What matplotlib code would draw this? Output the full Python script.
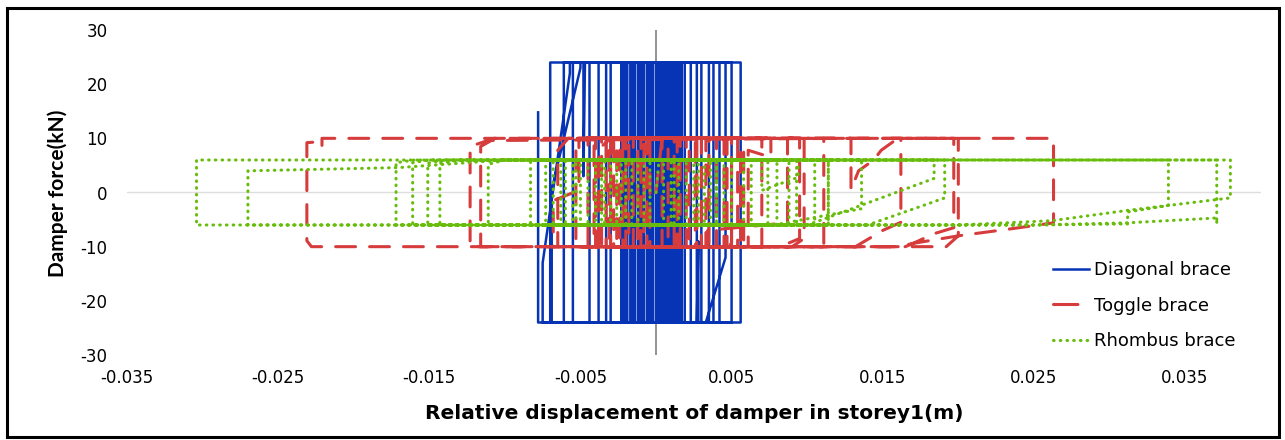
import numpy as np
import matplotlib
matplotlib.use("Agg")
import matplotlib.pyplot as plt
from matplotlib.patches import Rectangle
from matplotlib.lines import Line2D

# hysteresis paths: (relative displacement [m], damper force [kN])
diagonal_pts = [
    (0.0000, 0.0), (0.0002, 24.0),
    (0.0010, 24.0), (0.0010, -24.0), (-0.0012, -24.0), (-0.0012, 24.0),
    (0.0014, 24.0), (0.0014, -24.0), (-0.0020, -24.0), (-0.0020, 24.0),
    (0.0007, 24.0), (0.0007, -24.0), (-0.0009, -24.0), (-0.0009, 24.0),
    (0.0017, 24.0), (0.0017, -24.0), (-0.0023, -24.0), (-0.0023, 24.0),
    (0.0004, 24.0), (0.0004, -24.0), (-0.0005, -24.0), (-0.0005, 24.0),
    (0.0013, 24.0), (0.0013, -24.0), (-0.0016, -24.0), (-0.0016, 24.0),
    (0.0001, 24.0), (0.0001, -24.0), (-0.0003, -24.0), (-0.0003, 24.0),
    (0.0009, 24.0), (0.0009, -24.0), (-0.0017, -24.0), (-0.0017, 24.0),
    (0.0006, 24.0), (0.0006, -24.0), (-0.0011, -24.0), (-0.0011, 24.0),
    (0.0015, 24.0), (0.0015, -24.0), (-0.0021, -24.0), (-0.0021, 24.0),
    (0.0003, 24.0), (0.0003, -24.0), (-0.0008, -24.0), (-0.0008, 24.0),
    (0.0012, 24.0), (0.0012, -24.0), (-0.0014, -24.0), (-0.0014, 24.0),
    (0.0000, 24.0), (0.0000, -24.0), (-0.0006, -24.0), (-0.0006, 24.0),
    (0.0016, 24.0), (0.0016, -24.0), (-0.0019, -24.0), (-0.0019, 24.0),
    (0.0005, 24.0), (0.0005, -24.0), (-0.0002, -24.0), (-0.0002, 24.0),
    (0.0011, 24.0), (0.0011, -24.0), (-0.0015, -24.0), (-0.0015, 24.0),
    (0.0008, 24.0), (0.0008, -24.0), (-0.0010, -24.0), (-0.0010, 24.0),
    (0.0002, 24.0), (0.0002, -24.0), (-0.0004, -24.0), (-0.0004, 24.0),
    (0.0017, 24.0), (0.0017, -24.0), (-0.0022, -24.0), (-0.0022, 24.0),
    (0.0023, 24.0), (0.0023, -24.0), (-0.0030, -24.0), (-0.0030, 24.0),
    (0.0038, 24.0), (0.0038, -24.0), (-0.0044, -24.0), (-0.0044, 24.0),
    (0.0056, 24.0), (0.0056, -24.0), (-0.0070, -24.0), (-0.0070, 24.0),
    (-0.0048, 24.0), (-0.0048, 3.0), (-0.0047, 24.0),
    (0.0046, 24.0), (0.0046, -12.0), (0.0034, -23.0), (0.0033, -24.0),
    (-0.0055, -24.0), (-0.0055, 24.0),
    (0.0030, 24.0), (0.0030, -24.0), (-0.0038, -24.0), (-0.0038, 24.0),
    (0.0042, 24.0), (0.0042, -24.0),
    (0.0028, -24.0), (0.0028, -9.0), (0.0027, -24.0),
    (-0.0061, -24.0), (-0.0061, 24.0),
    (0.0027, 24.0), (0.0027, -24.0), (-0.0033, -24.0), (-0.0033, 24.0),
    (0.0019, 24.0), (0.0019, -24.0),
    (-0.0075, -24.0), (-0.0075, -13.0), (-0.0057, 22.0), (-0.0057, 24.0),
    (0.0050, 24.0), (0.0050, -24.0),
    (-0.0069, -24.0), (-0.0069, 0.5), (-0.0050, 23.0), (-0.0050, 24.0),
    (0.0035, 24.0), (0.0035, -24.0),
    (-0.0078, -24.0), (-0.0078, 14.8),
]

toggle_pts = [
    (0.0000, 0.0), (0.0004, 10.0),
    (0.0020, 10.0), (0.0020, -10.0), (-0.0015, -10.0), (-0.0015, 10.0),
    (0.0035, 10.0), (0.0035, -10.0), (-0.0028, -10.0), (-0.0028, 10.0),
    (0.0012, 10.0), (0.0012, -10.0), (-0.0008, -10.0), (-0.0008, 10.0),
    (0.0045, 10.0), (0.0045, -10.0), (-0.0036, -10.0), (-0.0036, 10.0),
    (0.0026, 10.0), (0.0026, -10.0), (-0.0020, -10.0), (-0.0020, 10.0),
    (0.0050, 10.0), (0.0050, -9.5), (0.0042, -10.0),
    (-0.0041, -10.0), (-0.0041, 10.0),
    (0.0016, 10.0), (0.0016, -10.0), (-0.0004, -10.0), (-0.0004, 10.0),
    (0.0030, 10.0), (0.0030, -10.0), (-0.0024, -10.0), (-0.0024, 10.0),
    (0.0058, 10.0), (0.0058, -10.0), (-0.0031, -10.0), (-0.0031, 10.0),
    (0.0008, 10.0), (0.0008, -10.0), (-0.0012, -10.0), (-0.0012, 10.0),
    (0.0040, 10.0), (0.0040, -10.0),
    (-0.0038, -10.0), (-0.0038, 8.0), (-0.0030, 10.0),
    (0.0022, 10.0), (0.0022, -10.0), (-0.0018, -10.0), (-0.0018, 10.0),
    (0.0054, 10.0), (0.0054, -10.0), (-0.0026, -10.0), (-0.0026, 10.0),
    (0.0004, 10.0), (0.0004, -10.0), (-0.0010, -10.0), (-0.0010, 10.0),
    (0.0033, 10.0), (0.0033, -10.0), (-0.0033, -10.0), (-0.0033, 10.0),
    (0.0047, 10.0), (0.0047, -10.0), (-0.0022, -10.0), (-0.0022, 10.0),
    (0.0014, 10.0), (0.0014, -10.0), (-0.0006, -10.0), (-0.0006, 10.0),
    (0.0027, 10.0), (0.0027, -10.0), (-0.0040, -10.0), (-0.0040, 10.0),
    (0.0056, 10.0), (0.0056, -10.0),
    (-0.0065, -10.0), (-0.0065, 7.8), (-0.0058, 10.0),
    (0.0095, 10.0), (0.0095, -8.5), (0.0082, -10.0),
    (-0.0068, -10.0), (-0.0068, -1.5), (-0.0051, 0.4), (-0.0051, 10.0),
    (0.0111, 10.0), (0.0111, -10.0),
    (0.0034, -10.0), (0.0034, -7.0), (0.0087, -5.6), (0.0087, 10.0),
    (0.0098, 10.0), (0.0098, -8.5), (0.0090, -10.0),
    (-0.0123, -10.0), (-0.0123, 8.5), (-0.0107, 10.0),
    (0.0162, 10.0), (0.0162, -5.5), (0.0150, -7.0), (0.0132, -10.0),
    (-0.0053, -10.0), (-0.0053, 10.0),
    (0.0200, 10.0), (0.0200, -8.0), (0.0192, -10.0),
    (-0.0228, -10.0), (-0.0231, -8.9), (-0.0231, 9.2), (-0.0226, 9.3),
    (-0.0221, 8.2), (-0.0221, 10.0),
    (0.0263, 10.0), (0.0263, -5.6), (0.0235, -6.7), (0.0200, -8.0),
    (0.0170, -9.4), (0.0160, -10.0),
    (-0.0116, -10.0), (-0.0116, 8.5), (-0.0109, 9.6),
    (0.0129, 10.0), (0.0129, 0.5), (0.0134, 4.0), (0.0144, 6.0),
    (0.0149, 7.8), (0.0158, 9.6), (0.0162, 10.0),
    (0.0197, 10.0), (0.0197, -6.5), (0.0184, -7.6), (0.0170, -9.4), (0.0165, -10.0),
    (-0.0030, -10.0), (-0.0030, 10.0),
    (0.0076, 10.0), (0.0076, 6.5), (0.0061, 7.8), (0.0061, -10.0),
    (-0.0045, -10.0), (-0.0045, 10.0),
    (0.0070, 10.0), (0.0070, -10.0),
]

rhombus_pts = [
    (0.0000, 0.0), (0.0002, 6.0),
    (0.0010, 6.0), (0.0010, -6.0), (-0.0012, -6.0), (-0.0012, 6.0),
    (0.0025, 6.0), (0.0025, -6.0), (-0.0030, -6.0), (-0.0030, 6.0),
    (0.0040, 6.0), (0.0040, -6.0), (-0.0020, -6.0), (-0.0020, 6.0),
    (0.0015, 6.0), (0.0015, -6.0), (-0.0045, -6.0), (-0.0045, 6.0),
    (0.0050, 6.0), (0.0050, -6.0), (-0.0008, -6.0), (-0.0008, 6.0),
    (0.0032, 6.0), (0.0032, -6.0), (-0.0055, -6.0), (-0.0055, 6.0),
    (0.0005, 6.0), (0.0005, -6.0), (-0.0036, -6.0), (-0.0036, 6.0),
    (0.0063, 6.0), (0.0063, -6.0), (-0.0063, -6.0), (-0.0063, 6.0),
    (0.0020, 6.0), (0.0020, -6.0), (-0.0026, -6.0), (-0.0026, 6.0),
    (0.0045, 6.0), (0.0045, -6.0), (-0.0073, -6.0), (-0.0073, 6.0),
    (0.0036, 6.0), (0.0036, -6.0), (-0.0016, -6.0), (-0.0016, 6.0),
    (0.0058, 6.0), (0.0058, -6.0), (-0.0050, -6.0), (-0.0050, 6.0),
    (0.0028, 6.0), (0.0028, -6.0), (-0.0040, -6.0), (-0.0040, 6.0),
    (0.0012, 6.0), (0.0012, -6.0), (-0.0083, -6.0), (-0.0083, 6.0),
    (0.0074, 6.0), (0.0074, -6.0), (-0.0004, -6.0), (-0.0004, 6.0),
    (0.0080, 6.0), (0.0080, -6.0), (-0.0060, -6.0), (-0.0060, 6.0),
    (0.0088, 6.0), (0.0088, -6.0), (-0.0034, -6.0), (-0.0034, 6.0),
    (0.0093, 6.0), (0.0093, -6.0), (-0.0068, -6.0), (-0.0068, 6.0),
    (0.0105, 6.0), (0.0105, -6.0),
    (-0.0111, -6.0), (-0.0111, 5.2), (-0.0100, 6.0),
    (0.0114, 6.0), (0.0114, -6.0),
    (-0.0143, -6.0), (-0.0143, 5.4), (-0.0130, 6.0),
    (0.0136, 6.0), (0.0136, -3.0), (0.0078, -6.0),
    (-0.0151, -6.0), (-0.0151, 5.4), (-0.0140, 6.0),
    (0.0184, 6.0), (0.0184, 2.6), (0.0114, -4.6), (0.0100, -6.0),
    (-0.0161, -6.0), (-0.0161, 5.5), (-0.0150, 6.0),
    (0.0191, 6.0), (0.0191, -1.0), (0.0140, -6.0),
    (-0.0172, -6.0), (-0.0172, 5.5), (-0.0160, 6.0),
    (0.0339, 6.0), (0.0339, -2.4), (0.0312, -3.6), (0.0312, -5.8), (0.0250, -6.0),
    (-0.0304, -6.0), (-0.0304, 6.0),
    (0.0380, 6.0), (0.0380, -1.0), (0.0312, -3.3), (0.0262, -5.2), (0.0200, -6.0),
    (-0.0270, -6.0), (-0.0270, 4.0), (-0.0170, 4.6), (-0.0100, 6.0),
    (0.0371, 6.0), (0.0371, -5.8), (0.0371, -4.7), (0.0312, -5.6), (0.0250, -6.0),
    (-0.0053, -6.0), (-0.0053, 6.0),
    (0.0070, 6.0), (0.0070, 0.4), (0.0094, 2.8), (0.0094, 6.0),
    (0.0114, 6.0), (0.0114, -6.0),
    (-0.0023, -6.0), (-0.0023, 6.0),
    (0.0040, 6.0), (0.0040, -6.0),
]

series_names = ["Diagonal brace", "Toggle brace", "Rhombus brace"]
xticks = [-0.035, -0.025, -0.015, -0.005, 0.005, 0.015, 0.025, 0.035]
xtick_labels = ["-0.035", "-0.025", "-0.015", "-0.005", "0.005", "0.015", "0.025", "0.035"]
yticks = [-30, -20, -10, 0, 10, 20, 30]

plt.rcParams["font.family"] = ["DejaVu Sans"]
plt.rcParams["axes.unicode_minus"] = False

blue, red, green = "#0634b4", "#d63c3c", "#68bd0c"

fig = plt.figure(figsize=(12.85, 4.4), dpi=100)
ax = fig.add_axes([127 / 1285, 1 - 355 / 440, (1260.6 - 127) / 1285, 325 / 440])

ax.axhline(0, color="#dedede", lw=1.0, zorder=0)
ax.axvline(0, color="#8a8a8a", lw=1.3, zorder=0.5)

dx, dy = np.array(diagonal_pts).T
tx, ty = np.array(toggle_pts).T
rx, ry = np.array(rhombus_pts).T

ax.plot(dx, dy, color=blue, lw=1.8, zorder=2)
ax.plot(tx, ty, color=red, lw=2.2, dashes=(6.5, 4.6),
        dash_capstyle="round", zorder=3)
ax.plot(rx, ry, color=green, lw=2.2, dashes=(0.2, 2.0),
        dash_capstyle="round", zorder=4)

ax.set_xlim(-0.035, 0.04)
ax.set_ylim(-30, 30)
ax.set_xticks(xticks)
ax.set_xticklabels(xtick_labels)
ax.set_yticks(yticks)
for s in ax.spines.values():
    s.set_visible(False)
ax.tick_params(axis="both", length=0, labelsize=12)
ax.tick_params(axis="x", pad=10)
ax.tick_params(axis="y", pad=14)

fig.text(694 / 1285, 1 - 419 / 440, "Relative displacement of damper in storey1(m)",
         ha="center", va="baseline", fontsize=14.5, fontweight="bold")
fig.text(58 / 1285, 1 - 193 / 440, "Damper force(kN)", rotation=90,
         ha="center", va="center", fontsize=15, fontweight="bold", family=["Lato"])

# legend proxies so the toggle handle shows one dash as in the picture
handles = [
    Line2D([], [], color=blue, lw=1.8),
    Line2D([], [], color=red, lw=2.2, dashes=(8, 20), dash_capstyle="round"),
    Line2D([], [], color=green, lw=2.2, dashes=(0.2, 2.0), dash_capstyle="round"),
]
ax.legend(handles, series_names, loc="upper left",
          bbox_to_anchor=(1053 / 1285, 1 - 261 / 440),
          bbox_transform=fig.transFigure, frameon=False, fontsize=13,
          borderpad=0, borderaxespad=0, handlelength=2.0, handletextpad=0.25,
          labelspacing=0.97)

fig.patches.append(Rectangle((7 / 1285, 3 / 440), 1272 / 1285, 429 / 440,
                             transform=fig.transFigure, fill=False,
                             edgecolor="black", lw=2.2))

fig.savefig("out.png", dpi=100)
